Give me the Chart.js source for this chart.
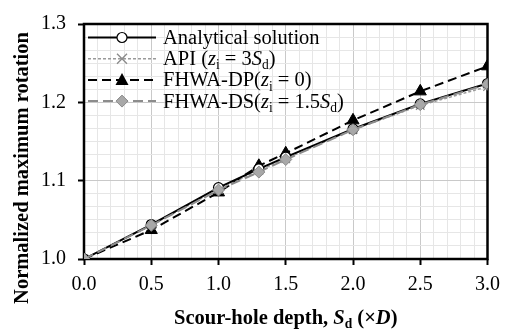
<!DOCTYPE html>
<html>
<head>
<meta charset="utf-8">
<script src="https://cdn.jsdelivr.net/npm/chart.js@4/dist/chart.umd.min.js"></script>
<style>
html,body{margin:0;padding:0;background:#fff;}
#wrap{width:508px;height:329px;position:relative;}
</style>
</head>
<body>
<div id="wrap"><canvas id="c" width="508" height="329"></canvas></div>
<script>
const depths = [0, 0.5, 1.0, 1.3, 1.5, 2.0, 2.5, 3.0];
const analytical = [1.000, 1.044, 1.091, 1.115, 1.130, 1.166, 1.198, 1.224];
const api        = [1.000, 1.043, 1.089, 1.113, 1.128, 1.165, 1.196, 1.220];
const fhwaDP     = [1.000, 1.037, 1.085, 1.119, 1.135, 1.177, 1.214, 1.246];
const fhwaDS     = [1.000, 1.043, 1.088, 1.111, 1.127, 1.165, 1.197, 1.223];
const xTickLabels = ['0.0','0.5','1.0','1.5','2.0','2.5','3.0'];
const yTickLabels = ['1.0','1.1','1.2','1.3'];

const SERIF = '"Liberation Serif", "Times New Roman", serif';

function pts(arr){ return depths.map((x,i)=>({x:x, y:arr[i]})); }

function isMultiple(v, step){ const r = v/step; return Math.abs(r - Math.round(r)) < 1e-6; }

function drawRich(ctx, segs, size, x, y, align){
  let w = 0;
  const m = segs.map(s=>{
    const fs = s.sub ? size*0.66 : size;
    const f = (s.italic?'italic ':'') + (s.bold?'bold ':'') + fs + 'px ' + SERIF;
    ctx.font = f;
    const ww = ctx.measureText(s.t).width;
    w += ww;
    return {f, ww, s};
  });
  let cx = align === 'center' ? x - w/2 : x;
  ctx.textBaseline = 'alphabetic';
  ctx.textAlign = 'left';
  m.forEach(o=>{
    ctx.font = o.f;
    ctx.fillText(o.s.t, cx, y + (o.s.sub ? size*0.2 : 0));
    cx += o.ww;
  });
  return w;
}

const legendItems = [
  {segs:[{t:'Analytical solution'}], color:'#000', dash:[], width:2, marker:'circle'},
  {segs:[{t:'API ('},{t:'z',italic:true},{t:'i',sub:true},{t:' = 3'},{t:'S',italic:true},{t:'d',sub:true},{t:')'}], color:'#9a9a9a', dash:[3,2], width:1.5, marker:'cross'},
  {segs:[{t:'FHWA-DP('},{t:'z',italic:true},{t:'i',sub:true},{t:' = 0)'}], color:'#000', dash:[9,5], width:2, marker:'triangle'},
  {segs:[{t:'FHWA-DS('},{t:'z',italic:true},{t:'i',sub:true},{t:' = 1.5'},{t:'S',italic:true},{t:'d',sub:true},{t:')'}], color:'#8c8c8c', dash:[10,5], width:2, marker:'diamond'}
];

function drawMarker(ctx, type, x, y){
  ctx.save();
  ctx.setLineDash([]);
  if(type==='circle'){
    ctx.beginPath(); ctx.arc(x,y,5,0,Math.PI*2);
    ctx.fillStyle='#fff'; ctx.fill(); ctx.lineWidth=1.2; ctx.strokeStyle='#000'; ctx.stroke();
  } else if(type==='cross'){
    ctx.beginPath(); ctx.moveTo(x-5,y-5); ctx.lineTo(x+5,y+5); ctx.moveTo(x+5,y-5); ctx.lineTo(x-5,y+5);
    ctx.lineWidth=1.3; ctx.strokeStyle='#8a8a8a'; ctx.stroke();
  } else if(type==='triangle'){
    ctx.beginPath(); ctx.moveTo(x,y-7); ctx.lineTo(x+6.5,y+5); ctx.lineTo(x-6.5,y+5); ctx.closePath();
    ctx.fillStyle='#000'; ctx.fill();
  } else if(type==='diamond'){
    ctx.beginPath(); ctx.moveTo(x,y-6); ctx.lineTo(x+6,y); ctx.lineTo(x,y+6); ctx.lineTo(x-6,y); ctx.closePath();
    ctx.fillStyle='#a8a8a8'; ctx.fill(); ctx.lineWidth=1; ctx.strokeStyle='#8a8a8a'; ctx.stroke();
  }
  ctx.restore();
}

const decor = {
  id:'decor',
  beforeDatasetsDraw(chart){
    const {ctx, chartArea:a} = chart;
    ctx.save();
    ctx.strokeStyle='#000';
    ctx.lineWidth=2.5;
    ctx.strokeRect(a.left, a.top, a.right-a.left, a.bottom-a.top);
    ctx.restore();
  },
  afterDatasetsDraw(chart){
    const {ctx, chartArea:a} = chart;
    ctx.save();
    ctx.fillStyle='#000';
    const x0 = a.left + 4, x1 = a.left + 72, mx = a.left + 38, tx = a.left + 79;
    legendItems.forEach((it,i)=>{
      const y = a.top + 13.5 + i*21.2;
      ctx.save();
      ctx.beginPath(); ctx.setLineDash(it.dash); ctx.lineWidth=it.width; ctx.strokeStyle=it.color;
      ctx.moveTo(x0,y); ctx.lineTo(x1,y); ctx.stroke();
      ctx.restore();
      drawMarker(ctx, it.marker, mx, y);
      ctx.fillStyle='#000';
      drawRich(ctx, it.segs, 20.5, tx, y+6.5, 'left');
    });
    drawRich(ctx, [{t:'Scour-hole depth, ',bold:true},{t:'S',bold:true,italic:true},{t:'d',bold:true,sub:true},{t:' (×',bold:true},{t:'D',bold:true,italic:true},{t:')',bold:true}], 20.5, (a.left+a.right)/2, 324, 'center');
    ctx.save();
    ctx.translate(28, 168);
    ctx.rotate(-Math.PI/2);
    drawRich(ctx, [{t:'Normalized maximum rotation',bold:true}], 20.5, 0, 0, 'center');
    ctx.restore();
    ctx.restore();
  }
};

function gridColor(axisStep){
  return (c)=> isMultiple(c.tick.value, axisStep) ? '#c9c9c9' : '#e6e6e6';
}

new Chart(document.getElementById('c'), {
  type:'line',
  data:{
    datasets:[
      {label:'FHWA-DS', data:pts(fhwaDS), borderColor:'#8c8c8c', borderWidth:2, borderDash:[10,5], pointStyle:'rectRot', pointRadius:6, pointBackgroundColor:'#a8a8a8', pointBorderColor:'#8a8a8a', pointBorderWidth:1, order:1, tension:0},
      {label:'Analytical', data:pts(analytical), borderColor:'#000', borderWidth:2, pointStyle:'circle', pointRadius:5, pointBackgroundColor:'#fff', pointBorderColor:'#000', pointBorderWidth:1.2, order:2, tension:0},
      {label:'API', data:pts(api), borderColor:'#9a9a9a', borderWidth:1.5, borderDash:[3,2], pointStyle:'crossRot', pointRadius:6, pointBorderColor:'#8a8a8a', pointBorderWidth:1.3, order:3, tension:0},
      {label:'FHWA-DP', data:pts(fhwaDP), borderColor:'#000', borderWidth:2, borderDash:[9,5], pointStyle:'triangle', pointRadius:7, pointBackgroundColor:'#000', pointBorderColor:'#000', pointBorderWidth:1, order:4, tension:0}
    ]
  },
  options:{
    responsive:false,
    animation:false,
    events:[],
    layout:{padding:{top:17,right:18,left:0,bottom:0}},
    plugins:{legend:{display:false}, tooltip:{enabled:false}},
    scales:{
      x:{
        type:'linear', min:0, max:3,
        afterFit(s){ s.height = 70; },
        afterBuildTicks(s){ s.ticks = Array.from({length:31},(_,i)=>({value:i/10})); },
        ticks:{
          autoSkip:false, maxRotation:0, padding:8,
          font:{family:SERIF, size:20}, color:'#000',
          callback:(v)=>{ const i = Math.round(v*2); return isMultiple(v,0.5) ? xTickLabels[i] : ''; }
        },
        grid:{color:gridColor(0.5), lineWidth:1, tickLength:6, tickWidth:2,
              tickColor:(c)=> isMultiple(c.tick.value,0.5) ? '#000' : 'rgba(0,0,0,0)'},
        border:{display:false}
      },
      y:{
        type:'linear', min:1.0, max:1.3,
        afterFit(s){ s.width = 84; },
        afterBuildTicks(s){ s.ticks = Array.from({length:19},(_,i)=>({value:1 + i/60})); },
        ticks:{
          autoSkip:false, padding:12,
          font:{family:SERIF, size:20}, color:'#000',
          callback:(v)=>{ const i = Math.round((v-1)*10); return isMultiple(v-1,0.1) ? yTickLabels[i] : ''; }
        },
        grid:{color:gridColor(0.1), lineWidth:1, tickLength:6, tickWidth:2,
              tickColor:(c)=> isMultiple(c.tick.value-1,0.1) ? '#000' : 'rgba(0,0,0,0)'},
        border:{display:false}
      }
    }
  },
  plugins:[decor]
});
</script>
</body>
</html>
